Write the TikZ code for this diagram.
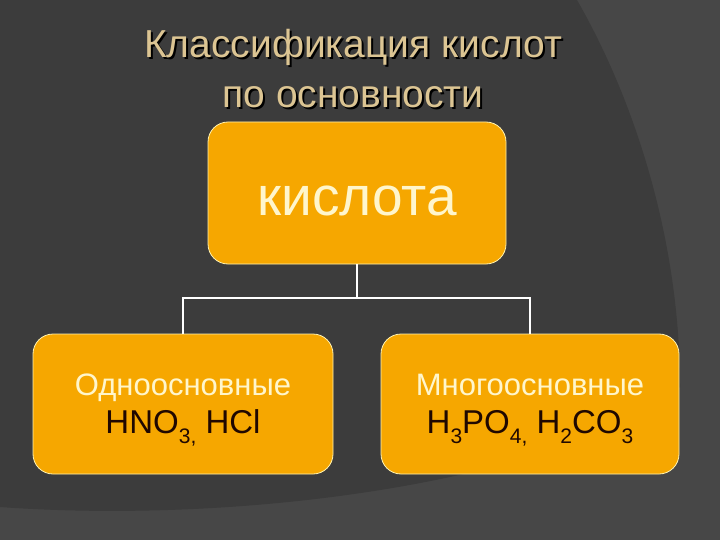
\documentclass[tikz,border=0pt]{standalone}
\usepackage{fontspec}
\setmainfont{Liberation Sans}
\usetikzlibrary{positioning}

\definecolor{bgdark}{HTML}{3C3C3C}
\definecolor{bglight}{HTML}{474747}
\definecolor{boxorange}{HTML}{F6A700}
\definecolor{boxedge}{HTML}{FFF2B0}
\definecolor{cream}{HTML}{FFF6CC}
\definecolor{titletan}{HTML}{DCC593}
\definecolor{formula}{HTML}{200800}

% lowered index, as the slide sets it
\newcommand{\lowidx}[1]{\raisebox{-10pt}{\fontsize{21}{21}\selectfont #1}}

\begin{document}
\begin{tikzpicture}[x=1pt,y=-1pt,
    kind/.style={draw=boxedge,line width=0.8pt,fill=boxorange,rounded corners=20pt,
      align=center,text=cream,inner sep=0pt,text depth=0pt,
      minimum height=140pt,font=\fontsize{31}{38}\selectfont},
    link/.style={draw=white,line width=1.5pt}]
  \useasboundingbox (0,0) rectangle (720,540);
  % background
  \fill[bglight] (0,0) rectangle (720,540);
  \fill[bgdark] (0,0) -- (577,0) .. controls (640,110) and (680,250) .. (680,387)
    .. controls (560,480) and (250,525) .. (0,507) -- cycle;

  % title with its shadow
  \node[text=black,align=center,font=\fontsize{39}{50}\selectfont] (titleshadow) at (355,71)
    {Классификация кислот\\по основности};
  \node[text=titletan,align=center,font=\fontsize{39}{50}\selectfont] (title) at (353,69)
    {Классификация кислот\\по основности};

  \node[kind,minimum width=298pt,minimum height=142pt,text height=44pt,
    font=\fontsize{55}{55}\selectfont] (acid) at (357,193) {кислота};

  \node[kind,minimum width=300pt] (mono) at (183,404)
    {Одноосновные\\{\fontsize{33}{38}\selectfont\color{formula}HNO\lowidx{3,} HCl}};
  \node[kind,minimum width=298pt] (poly) at (530,404)
    {Многоосновные\\{\fontsize{33}{38}\selectfont\color{formula}H\lowidx{3}PO\lowidx{4,} H\lowidx{2}CO\lowidx{3}}};

  \coordinate (fork) at (357,298);
  \draw[link] (acid.south) -- (fork);
  \draw[link] (fork) -| (mono.north);
  \draw[link] (fork) -| (poly.north);
\end{tikzpicture}
\end{document}
